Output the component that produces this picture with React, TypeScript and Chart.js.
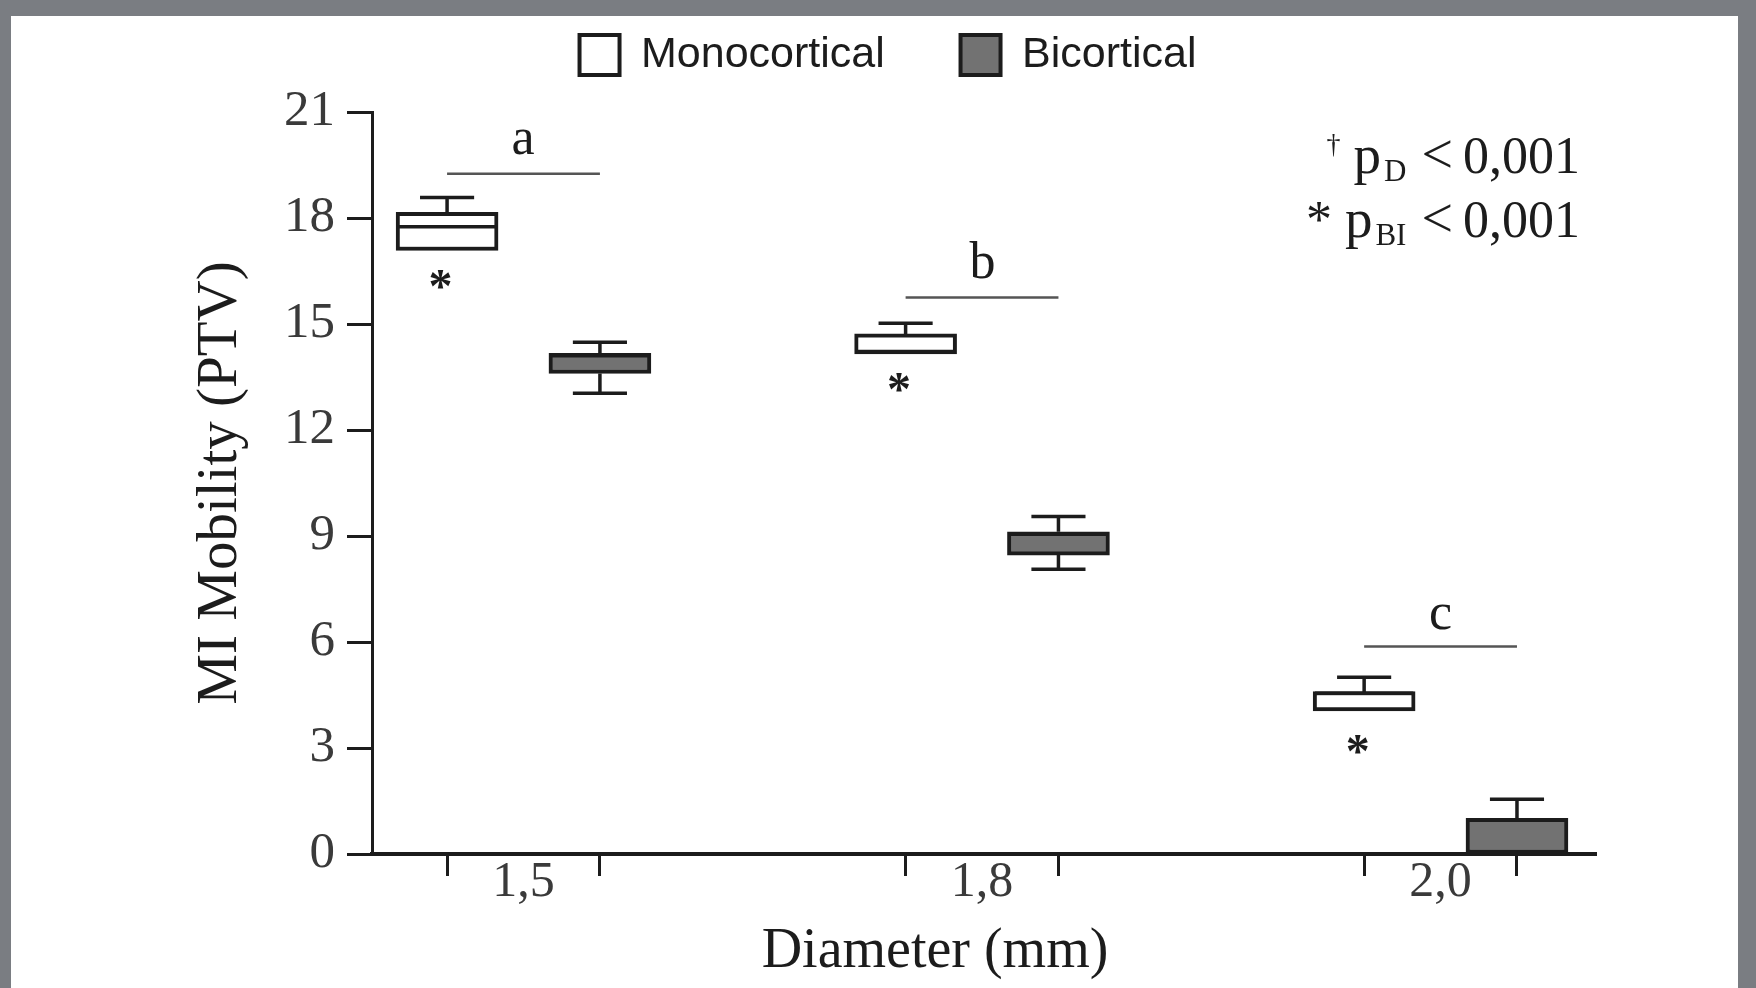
import React, { useEffect, useRef } from 'react';
import { Chart, registerables } from 'chart.js';

Chart.register(...registerables);

// ---- data ----
const diameterLabels = ['1,5', '1,8', '2,0'];
const seriesNames = ['Monocortical', 'Bicortical'];

const monoMin = [17.08, 14.15, 4.05];
const monoQ1 = [17.08, 14.15, 4.05];
const monoMedian = [17.75, 14.22, 4.55];
const monoQ3 = [18.16, 14.72, 4.6];
const monoMax = [18.58, 15.02, 5.0];

const biMin = [13.04, 8.06, 0.0];
const biQ1 = [13.6, 8.46, 0.0];
const biMedian = [14.1, 9.05, 0.05];
const biQ3 = [14.17, 9.12, 1.01];
const biMax = [14.48, 9.55, 1.55];

const sigLetters = ['a', 'b', 'c'];
const sigLineY = [19.25, 15.75, 5.87];
const sigLetterY = [20.16, 16.81, 6.72];
const starY = [16.27, 13.34, 3.11];

const yMin = 0;
const yMax = 21;
const yStep = 3;

// ---- geometry ----
const OFFSET = 1 / 6; // series offset from group centre, in x units
const X_MIN = -0.3304;
const X_MAX = 2.339;
const BOX_PX = 102; // box width in pixels
const CAP_HALF = 0.059; // whisker cap half-width, x units

const SERIF = "'Liberation Serif', 'Times New Roman', serif";
const INK = '#1c1c1c';

type Pt = { x: number; y: number | null };

function pushWhisker(arr: Pt[], c: number, boxHalf: number, mn: number, q1: number, md: number, q3: number, mx: number) {
  arr.push({ x: c, y: q3 }, { x: c, y: mx }, { x: c, y: null });
  arr.push({ x: c - CAP_HALF, y: mx }, { x: c + CAP_HALF, y: mx }, { x: c + CAP_HALF, y: null });
  if (mn < q1) {
    arr.push({ x: c, y: q1 }, { x: c, y: mn }, { x: c, y: null });
    arr.push({ x: c - CAP_HALF, y: mn }, { x: c + CAP_HALF, y: mn }, { x: c + CAP_HALF, y: null });
  }
  arr.push({ x: c - boxHalf, y: md }, { x: c + boxHalf, y: md }, { x: c + boxHalf, y: null });
}

function drawCentered(ctx: CanvasRenderingContext2D, t: string, cx: number, cy: number) {
  ctx.textAlign = 'left';
  ctx.textBaseline = 'alphabetic';
  const m = ctx.measureText(t);
  const x = cx - (m.actualBoundingBoxRight - m.actualBoundingBoxLeft) / 2;
  const y = cy + (m.actualBoundingBoxAscent - m.actualBoundingBoxDescent) / 2;
  ctx.fillText(t, x, y);
}

function drawPLine(ctx: CanvasRenderingContext2D, R: number, base: number, mark: string, sup: boolean, sub: string) {
  const big = `52px ${SERIF}`;
  ctx.textAlign = 'left';
  ctx.textBaseline = 'alphabetic';
  ctx.font = big;
  const num = '0,001';
  let xPos = R - ctx.measureText(num).width;
  ctx.fillText(num, xPos, base);
  ctx.font = `56px ${SERIF}`;
  xPos -= ctx.measureText('<').width + 10;
  ctx.fillText('<', xPos, base);
  ctx.font = `31px ${SERIF}`;
  xPos -= ctx.measureText(sub).width + 15;
  ctx.fillText(sub, xPos, base + 8);
  ctx.font = `55px ${SERIF}`;
  xPos -= ctx.measureText('p').width + 3;
  ctx.fillText('p', xPos, base);
  if (sup) {
    ctx.font = `28px ${SERIF}`;
    xPos -= ctx.measureText(mark).width + 13;
    ctx.fillText(mark, xPos, base - 20);
  } else {
    ctx.font = big;
    xPos -= ctx.measureText(mark + ' ').width;
    ctx.fillText(mark, xPos, base);
  }
}

const annotationPlugin = {
  id: 'boxAnnotations',
  afterDatasetsDraw(chart: any) {
    const { ctx, chartArea } = chart;
    const x = chart.scales.x;
    const y = chart.scales.y;
    ctx.save();
    ctx.fillStyle = INK;
    ctx.font = `52px ${SERIF}`;
    sigLetters.forEach((t, i) => drawCentered(ctx, t, x.getPixelForValue(i), y.getPixelForValue(sigLetterY[i])));
    ctx.font = `bold 48px ${SERIF}`;
    starY.forEach((v, i) => drawCentered(ctx, '*', x.getPixelForValue(i - OFFSET) - 6, y.getPixelForValue(v)));
    const R = chartArea.right - 16;
    drawPLine(ctx, R, chartArea.top + 61, '\u2020', true, 'D');
    drawPLine(ctx, R, chartArea.top + 125, '*', false, 'BI');
    ctx.restore();
  },
};

export default function App() {
  const ref = useRef<HTMLCanvasElement>(null);

  useEffect(() => {
    const canvas = ref.current;
    if (!canvas) return;

    const monoBoxes = diameterLabels.map((_, i) => ({ x: i - OFFSET, y: [monoQ1[i], monoQ3[i]] }));
    const biBoxes = diameterLabels.map((_, i) => ({ x: i + OFFSET, y: [biQ1[i], biQ3[i]] }));

    // chart area spans canvas x 361..1585 for the x range
    const pxPerUnit = (1585 - 361) / (X_MAX - X_MIN);
    const boxHalf = BOX_PX / 2 / pxPerUnit - 0.004;

    const whiskers: Pt[] = [];
    diameterLabels.forEach((_, i) => {
      pushWhisker(whiskers, i - OFFSET, boxHalf, monoMin[i], monoQ1[i], monoMedian[i], monoQ3[i], monoMax[i]);
      pushWhisker(whiskers, i + OFFSET, boxHalf, biMin[i], biQ1[i], biMedian[i], biQ3[i], biMax[i]);
    });

    const sigLines: Pt[] = [];
    sigLineY.forEach((v, i) => {
      sigLines.push({ x: i - OFFSET, y: v }, { x: i + OFFSET, y: v }, { x: i + OFFSET, y: null });
    });

    const boxTicks: number[] = [];
    const allTicks: number[] = [];
    diameterLabels.forEach((_, i) => {
      boxTicks.push(i - OFFSET, i + OFFSET);
      allTicks.push(i - OFFSET, i, i + OFFSET);
    });
    const isBoxTick = (v: number) => boxTicks.some((b) => Math.abs(b - v) < 1e-6);

    const chart = new Chart(canvas, {
      type: 'bar',
      data: {
        datasets: [
          {
            label: seriesNames[0],
            data: monoBoxes as any,
            backgroundColor: '#ffffff',
            borderColor: INK,
            borderWidth: 4,
            borderSkipped: false,
            grouped: false,
            barThickness: BOX_PX,
            order: 2,
          } as any,
          {
            label: seriesNames[1],
            data: biBoxes as any,
            backgroundColor: '#727272',
            borderColor: INK,
            borderWidth: 4,
            borderSkipped: false,
            grouped: false,
            barThickness: BOX_PX,
            order: 2,
          } as any,
          {
            type: 'line',
            label: 'whiskers',
            data: whiskers as any,
            borderColor: INK,
            borderWidth: 3.5,
            pointRadius: 0,
            spanGaps: false,
            tension: 0,
            order: 1,
          } as any,
          {
            type: 'line',
            label: 'significance',
            data: sigLines as any,
            borderColor: '#555555',
            borderWidth: 2.5,
            pointRadius: 0,
            spanGaps: false,
            tension: 0,
            order: 1,
          } as any,
        ],
      },
      options: {
        responsive: false,
        animation: false,
        devicePixelRatio: 1,
        layout: { padding: { left: 169, right: 142, top: 1.5, bottom: 0 } },
        plugins: {
          tooltip: { enabled: false },
          legend: {
            display: true,
            position: 'top',
            labels: {
              boxWidth: 40,
              boxHeight: 40,
              padding: 16,
              color: INK,
              font: { family: "'Liberation Sans', Arial, sans-serif", size: 43 },
              generateLabels: (ch: any) => {
                const items = (Chart.defaults.plugins.legend.labels as any).generateLabels(ch);
                return items
                  .filter((it: any) => it.datasetIndex < 2)
                  .map((it: any) => ({
                    ...it,
                    text: it.datasetIndex === 0 ? it.text + '     ' : it.text,
                    lineWidth: 4,
                    strokeStyle: INK,
                  }));
              },
            },
          },
        },
        scales: {
          x: {
            type: 'linear',
            position: 'bottom',
            min: X_MIN,
            max: X_MAX,
            offset: false,
            afterBuildTicks: (s: any) => {
              s.ticks = allTicks.map((v) => ({ value: v }));
            },
            afterFit: (s: any) => {
              s.height = 134;
            },
            grid: {
              display: true,
              offset: false,
              drawOnChartArea: false,
              drawTicks: true,
              tickLength: 22,
              tickWidth: 3,
              tickColor: (c: any) => (c.tick && isBoxTick(c.tick.value) ? INK : 'rgba(0,0,0,0)'),
            },
            border: { display: true, color: INK, width: 4 },
            ticks: {
              autoSkip: false,
              maxRotation: 0,
              padding: -23,
              color: '#3a3a3a',
              font: { family: SERIF, size: 50 },
              callback: (v: any) => {
                const n = Number(v);
                if (isBoxTick(n)) return '';
                const idx = Math.round(n);
                return diameterLabels[idx] ?? '';
              },
            },
            title: {
              display: true,
              text: 'Diameter (mm)       ',
              color: INK,
              font: { family: SERIF, size: 56 },
              padding: { top: 0, bottom: 2.4 },
            },
          },
          spacer: {
            type: 'linear',
            position: 'top',
            display: true,
            grid: { display: false },
            ticks: { display: false },
            border: { display: false },
            afterFit: (s: any) => {
              s.height = 25.5;
            },
          },
          y: {
            type: 'linear',
            min: yMin,
            max: yMax,
            afterFit: (s: any) => {
              s.width = 192;
            },
            grid: {
              display: true,
              drawOnChartArea: false,
              drawTicks: true,
              tickLength: 25,
              tickWidth: 3,
              tickColor: INK,
            },
            border: { display: true, color: INK, width: 3 },
            ticks: {
              stepSize: yStep,
              padding: 12,
              color: '#3a3a3a',
              font: { family: SERIF, size: 51 },
            },
            title: {
              display: true,
              text: 'MI Mobility (PTV)',
              color: INK,
              font: { family: SERIF, size: 57 },
              padding: { top: 7, bottom: 0 },
            },
          },
        },
      } as any,
      plugins: [annotationPlugin],
    });

    return () => chart.destroy();
  }, []);

  return (
    <div style={{ position: 'fixed', left: 0, top: 0, width: 1756, height: 988, background: '#7a7d82' }}>
      <div style={{ position: 'absolute', left: 11, top: 16, width: 1727, height: 972, background: '#ffffff' }}>
        <canvas ref={ref} width={1727} height={972} style={{ display: 'block', width: 1727, height: 972 }} />
      </div>
    </div>
  );
}
